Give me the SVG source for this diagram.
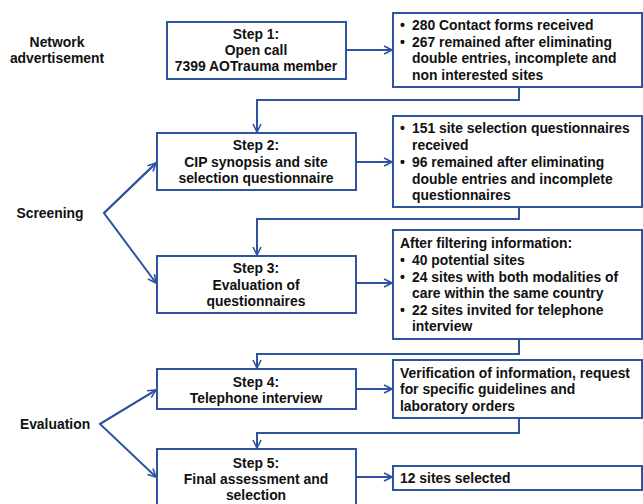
<svg xmlns="http://www.w3.org/2000/svg" width="643" height="504" viewBox="0 0 643 504">
<defs>
<marker id="ah" viewBox="0 0 10 10" refX="9" refY="5" markerWidth="10" markerHeight="10" markerUnits="userSpaceOnUse" orient="auto">
<path d="M1,1 L9,5 L1,9" fill="none" stroke="#2E54A0" stroke-width="1.6"/>
</marker>
<style>
.box{fill:#fff;stroke:#2E54A0;stroke-width:2}
.ln{fill:none;stroke:#2E54A0;stroke-width:2}
text{font-family:"Liberation Sans",Arial,sans-serif;font-weight:bold;font-size:13.9px;fill:#111}
.c{text-anchor:middle}
</style>
</defs>
<rect width="643" height="504" fill="#fff"/>
<g id="connectors">
<line class="ln" x1="346" y1="50" x2="392" y2="50" marker-end="url(#ah)"/>
<polyline class="ln" points="519,87 519,100 257,100 257,132" marker-end="url(#ah)"/>
<line class="ln" x1="356" y1="162" x2="392" y2="162" marker-end="url(#ah)"/>
<polyline class="ln" points="519,207 519,219 257,219 257,255" marker-end="url(#ah)"/>
<line class="ln" x1="356" y1="283" x2="392" y2="283" marker-end="url(#ah)"/>
<polyline class="ln" points="519,339 519,354 257,354 257,368" marker-end="url(#ah)"/>
<line class="ln" x1="356" y1="389" x2="392" y2="389" marker-end="url(#ah)"/>
<polyline class="ln" points="519,418 519,433 257,433 257,448" marker-end="url(#ah)"/>
<line class="ln" x1="356" y1="477" x2="392" y2="477" marker-end="url(#ah)"/>
<polyline class="ln" points="156,163 104,213 156,283" marker-end="url(#ah)"/>
<line class="ln" x1="104" y1="213" x2="156" y2="163" marker-end="url(#ah)"/>
<polyline class="ln" points="156,390 100,424 156,477" marker-end="url(#ah)"/>
<line class="ln" x1="100" y1="424" x2="156" y2="390" marker-end="url(#ah)"/>
</g>
<g id="label-network">
<text class="c" x="57" y="47">Network</text>
<text class="c" x="57" y="63">advertisement</text>
</g>
<g id="label-screening"><text class="c" x="50" y="218">Screening</text></g>
<g id="label-evaluation"><text class="c" x="55" y="429">Evaluation</text></g>
<g id="step1">
<rect class="box" x="167" y="22" width="179" height="57"/>
<text class="c" x="256" y="39">Step 1:</text>
<text class="c" x="256" y="55">Open call</text>
<text class="c" x="256" y="71">7399 AOTrauma member</text>
</g>
<g id="info1">
<rect class="box" x="393" y="13" width="249" height="74"/>
<text x="400" y="30">•</text><text x="412" y="30">280 Contact forms received</text>
<text x="400" y="46.5">•</text><text x="412" y="46.5">267 remained after eliminating</text>
<text x="412" y="63">double entries, incomplete and</text>
<text x="412" y="79.5">non interested sites</text>
</g>
<g id="step2">
<rect class="box" x="157" y="133" width="199" height="57"/>
<text class="c" x="256" y="150">Step 2:</text>
<text class="c" x="256" y="167">CIP synopsis and site</text>
<text class="c" x="256" y="183">selection questionnaire</text>
</g>
<g id="info2">
<rect class="box" x="393" y="116" width="249" height="91"/>
<text x="400" y="133">•</text><text x="412" y="133">151 site selection questionnaires</text>
<text x="412" y="149.5">received</text>
<text x="400" y="166.5">•</text><text x="412" y="166.5">96 remained after eliminating</text>
<text x="412" y="183.5">double entries and incomplete</text>
<text x="412" y="200">questionnaires</text>
</g>
<g id="step3">
<rect class="box" x="157" y="256" width="199" height="57"/>
<text class="c" x="256" y="273">Step 3:</text>
<text class="c" x="256" y="290">Evaluation of</text>
<text class="c" x="256" y="306">questionnaires</text>
</g>
<g id="info3">
<rect class="box" x="393" y="230" width="249" height="109"/>
<text x="400" y="248">After filtering information:</text>
<text x="400" y="264.5">•</text><text x="412" y="264.5">40 potential sites</text>
<text x="400" y="281.5">•</text><text x="412" y="281.5">24 sites with both modalities of</text>
<text x="412" y="297.5">care within the same country</text>
<text x="400" y="314.5">•</text><text x="412" y="314.5">22 sites invited for telephone</text>
<text x="412" y="331">interview</text>
</g>
<g id="step4">
<rect class="box" x="157" y="369" width="199" height="40"/>
<text class="c" x="256" y="386.5">Step 4:</text>
<text class="c" x="256" y="402.5">Telephone interview</text>
</g>
<g id="info4">
<rect class="box" x="393" y="360" width="249" height="58"/>
<text x="400" y="377.5">Verification of information, request</text>
<text x="400" y="394">for specific guidelines and</text>
<text x="400" y="410.5">laboratory orders</text>
</g>
<g id="step5">
<rect class="box" x="157" y="449" width="199" height="60"/>
<text class="c" x="256" y="467.5">Step 5:</text>
<text class="c" x="256" y="483.5">Final assessment and</text>
<text class="c" x="256" y="499.5">selection</text>
</g>
<g id="info5">
<rect class="box" x="393" y="466" width="249" height="24"/>
<text x="400" y="482.5">12 sites selected</text>
</g>
</svg>
